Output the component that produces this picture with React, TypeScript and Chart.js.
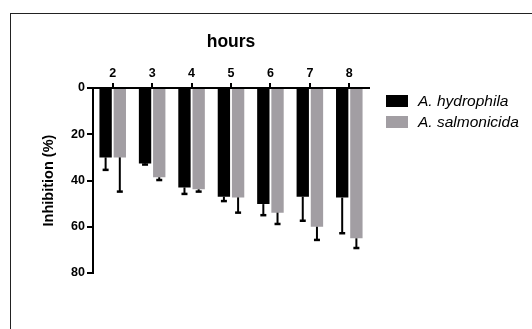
import React, { useEffect, useRef } from "react";
import { Chart, registerables } from "chart.js";

Chart.register(...registerables);

const categories = ["2", "3", "4", "5", "6", "7", "8"];
const seriesNames = ["A. hydrophila", "A. salmonicida"];
const hydrophila = [30, 32.6, 43, 47, 50.2, 47, 47.4];
const hydrophilaErr = [5.4, 0.5, 2.8, 1.9, 4.8, 10.4, 15.4];
const salmonicida = [30, 38.6, 43.8, 47.3, 53.9, 60, 65];
const salmonicidaErr = [14.8, 1.2, 1.0, 6.6, 4.9, 5.7, 4.2];
const yTicks = [0, 20, 40, 60, 80];

const colors = ["#000000", "#a29ea3"];
const FONT = "Arial, 'Liberation Sans', Helvetica, sans-serif";

const errorBarPlugin = {
  id: "errorBars",
  afterDatasetsDraw(chart: any) {
    const ctx = chart.ctx;
    const yScale = chart.scales.y;
    const errs = [hydrophilaErr, salmonicidaErr];
    chart.data.datasets.forEach((ds: any, di: number) => {
      const meta = chart.getDatasetMeta(di);
      meta.data.forEach((bar: any, i: number) => {
        const v = ds.data[i];
        const e = errs[di][i];
        const y0 = yScale.getPixelForValue(v);
        const y1 = yScale.getPixelForValue(v + e);
        ctx.save();
        ctx.strokeStyle = "#000";
        ctx.lineWidth = 2;
        ctx.beginPath();
        ctx.moveTo(bar.x, y0);
        ctx.lineTo(bar.x, y1);
        ctx.stroke();
        ctx.lineWidth = 2.5;
        ctx.beginPath();
        ctx.moveTo(bar.x - 3, y1);
        ctx.lineTo(bar.x + 3, y1);
        ctx.stroke();
        ctx.restore();
      });
    });
  },
};

export default function App() {
  const ref = useRef<HTMLCanvasElement>(null);
  useEffect(() => {
    const chart = new Chart(ref.current!, {
      type: "bar",
      data: {
        labels: categories,
        datasets: [
          { label: seriesNames[0], data: hydrophila, backgroundColor: colors[0], barPercentage: 0.87, categoryPercentage: 0.72 },
          { label: seriesNames[1], data: salmonicida, backgroundColor: colors[1], barPercentage: 0.87, categoryPercentage: 0.72 },
        ],
      },
      options: {
        animation: false,
        responsive: false,
        maintainAspectRatio: false,
        layout: { padding: { left: 40, right: 163, top: 32, bottom: 56 } },
        plugins: { legend: { display: false }, tooltip: { enabled: false } },
        scales: {
          x: {
            position: "top",
            offset: true,
            grid: { display: true, drawOnChartArea: false, drawTicks: true, tickLength: 5, color: "#000", lineWidth: 2, offset: false },
            border: { display: true, color: "#000", width: 2 },
            ticks: { color: "#000", font: { family: FONT, size: 12.5, weight: "bold" }, padding: 2, maxRotation: 0 },
            title: { display: true, text: "hours", color: "#000", font: { family: FONT, size: 17.5, weight: "bold" }, padding: { top: 0, bottom: 12 } },
            afterFit: (s: any) => { s.height = 88 - 32; },
          },
          y: {
            reverse: true,
            min: 0,
            max: 80,
            afterBuildTicks: (s: any) => { s.ticks = yTicks.map((v) => ({ value: v })); },
            grid: { display: true, drawOnChartArea: false, drawTicks: true, tickLength: 6, color: "#000", lineWidth: 2 },
            border: { display: true, color: "#000", width: 2 },
            ticks: { color: "#000", font: { family: FONT, size: 12.5, weight: "bold" }, padding: 2 },
            title: { display: true, text: "Inhibition (%)", color: "#000", font: { family: FONT, size: 14.5, weight: "bold" }, padding: { top: 0, bottom: 0 } },
            afterFit: (s: any) => { s.width = 93 - 40; },
          },
        },
      },
      plugins: [errorBarPlugin],
    });
    return () => chart.destroy();
  }, []);

  const legendItem = (i: number, top: number) => (
    <div style={{ position: "absolute", left: 386, top, height: 20, display: "flex", alignItems: "center" }}>
      <div style={{ width: 22, height: 12, background: colors[i] }} />
      <span style={{ marginLeft: 10, fontFamily: FONT, fontStyle: "italic", fontSize: 15.5, lineHeight: "20px", color: "#000", whiteSpace: "nowrap" }}>
        {seriesNames[i]}
      </span>
    </div>
  );

  return (
    <div style={{ position: "fixed", left: 0, top: 0, width: 532, height: 329, background: "#fff", overflow: "hidden" }}>
      <div style={{ position: "absolute", left: 10, top: 13, width: 540, height: 340, borderLeft: "1.5px solid #222", borderTop: "1.5px solid #222" }} />
      <canvas ref={ref} width={532} height={329} style={{ position: "absolute", left: 0, top: 0 }} />
      {legendItem(0, 91)}
      {legendItem(1, 112)}
    </div>
  );
}
